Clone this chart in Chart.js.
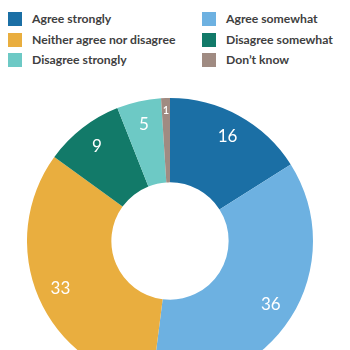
<!DOCTYPE html>
<html>
<head>
<meta charset="utf-8">
<script src="https://cdn.jsdelivr.net/npm/chart.js@4/dist/chart.umd.min.js"></script>
<style>
  html, body { margin: 0; padding: 0; background: #fff; }
  body { width: 350px; height: 350px; overflow: hidden; position: relative; font-family: Lato, "Open Sans", sans-serif; }
  #legend { position: absolute; left: 8px; top: 12px; width: 340px; }
  .item { position: absolute; height: 14px; line-height: 14px; font-size: 12.2px; font-weight: 700; color: #404040; white-space: nowrap; }
  .item i { position: absolute; left: 0; top: 0; width: 14px; height: 14px; }
  .item span { position: absolute; left: 24px; top: 0; }
  #wrap { position: absolute; left: 27px; top: 98px; width: 286px; height: 286px; }
</style>
</head>
<body>
<div id="legend"></div>
<div id="wrap"><canvas id="pie"></canvas></div>
<script>
// ---------- 数据 ----------
const answers = ['Agree strongly', 'Agree somewhat', 'Neither agree nor disagree', 'Disagree somewhat', 'Disagree strongly', "Don\u2019t know"];
const shares = [16, 36, 33, 9, 5, 1];
const colours = ['#1b6fa5', '#6db1e1', '#e9ae3f', '#127a69', '#6dc9c5', '#a08b82'];

// 标签画在环上（数值，白色）
const sliceLabels = {
    id: 'sliceLabels',
    afterDatasetsDraw(chart) {
        const ctx = chart.ctx;
        const meta = chart.getDatasetMeta(0);
        ctx.save();
        ctx.fillStyle = '#fff';
        ctx.textAlign = 'center';
        ctx.textBaseline = 'middle';
        meta.data.forEach((arc, i) => {
            const p = arc.getProps(['x', 'y', 'startAngle', 'endAngle', 'innerRadius', 'outerRadius'], true);
            const mid = (p.startAngle + p.endAngle) / 2;
            const small = shares[i] < 3;
            const r = p.innerRadius + (p.outerRadius - p.innerRadius) * (small ? 0.85 : 0.72);
            ctx.font = (small ? '600 11px' : '17px') + ' Lato, "Open Sans", sans-serif';
            ctx.fillText(String(shares[i]), p.x + Math.cos(mid) * r, p.y + Math.sin(mid) * r);
        });
        ctx.restore();
    }
};

const chart = new Chart(document.getElementById('pie'), {
    type: 'doughnut',
    data: {
        labels: answers,
        datasets: [{ data: shares, backgroundColor: colours, borderWidth: 0 }]
    },
    options: {
        responsive: true,
        maintainAspectRatio: false,
        animation: false,
        cutout: '41%',
        layout: { padding: 0 },
        plugins: { legend: { display: false }, tooltip: { enabled: false } }
    },
    plugins: [sliceLabels]
});

// 图例：两列三行
function renderLegend() {
    const box = document.getElementById('legend');
    const items = Chart.overrides.doughnut.plugins.legend.labels.generateLabels(chart);
    items.forEach((it, i) => {
        const div = document.createElement('div');
        div.className = 'item';
        div.style.left = (i % 2 ? 194 : 0) + 'px';
        div.style.top = (Math.floor(i / 2) * 20.5) + 'px';
        div.innerHTML = `<i style="background:${it.fillStyle}"></i><span>${it.text}</span>`;
        box.appendChild(div);
    });
}
renderLegend();
</script>
</body>
</html>
